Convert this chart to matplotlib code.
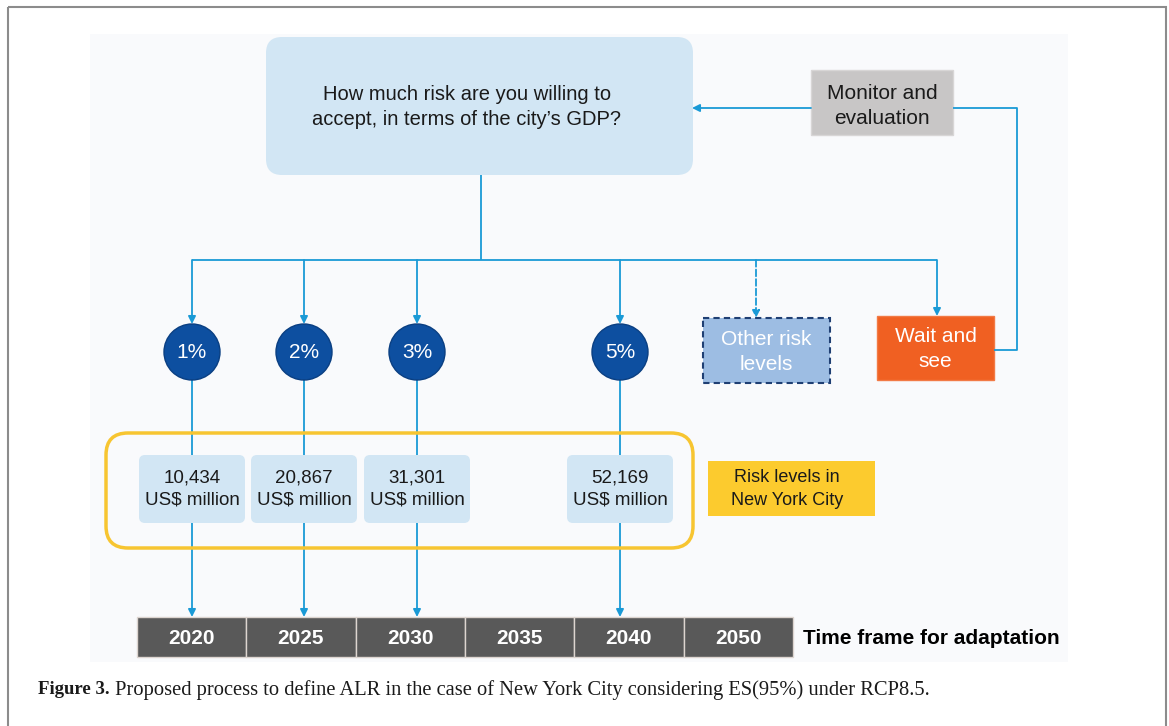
"""Flowchart: proposed process to define ALR for New York City (ES 95%, RCP8.5)."""
import matplotlib
matplotlib.use('Agg')
import matplotlib.pyplot as plt
from matplotlib.patches import FancyBboxPatch, Rectangle, Circle

# ── Content ──
question = "How much risk are you willing to\naccept, in terms of the city\u2019s GDP?"
monitor_label = "Monitor and\nevaluation"
wait_label = "Wait and\nsee"
other_label = "Other risk\nlevels"
risk_levels = ['1%', '2%', '3%', '5%']
risk_values = ['10,434', '20,867', '31,301', '52,169']
years = ['2020', '2025', '2030', '2035', '2040', '2050']
level_year = ['2020', '2025', '2030', '2040']
nyc_label = "Risk levels in\nNew York City"
timeline_label = "Time frame for adaptation"
caption_bold = "Figure 3."
caption_text = " Proposed process to define ALR in the case of New York City considering ES(95%) under RCP8.5."

# ── Layout (pixel coords) ──
W, H = 1169, 726
LINE = '#1a9ad6'
LIGHT = '#d2e6f4'
col_x = [192, 304, 417, 620]
other_x, wait_x = 756, 937
bus_y = 260
circ_y, circ_r = 352, 28
year_x0, year_w, year_y0, year_y1 = 137, 109.3, 617, 657
val_w = 106

plt.rcParams['font.family'] = ['Liberation Sans', 'DejaVu Sans']
fig = plt.figure(figsize=(W / 100, H / 100), dpi=100)
ax = fig.add_axes([0, 0, 1, 1])
ax.set_xlim(0, W)
ax.set_ylim(H, 0)
ax.axis('off')


def arrow(x0, y0, x1, y1, ls='-'):
    ax.annotate('', xy=(x1, y1), xytext=(x0, y0),
                arrowprops=dict(arrowstyle='-|>', color=LINE, lw=1.3, ls=ls,
                                mutation_scale=11, shrinkA=0, shrinkB=0), zorder=3)


def line(xs, ys, ls='-'):
    ax.plot(xs, ys, color=LINE, lw=1.3, ls=ls, zorder=2, solid_capstyle='butt')


# outer frame and panel
ax.add_patch(Rectangle((8, 7), 1158, 730, fill=False, ec='#8c8c8c', lw=1.5, zorder=0))
ax.add_patch(Rectangle((90, 34), 978, 628, fc='#f9fafc', ec='none', zorder=0))

# question box
ax.add_patch(FancyBboxPatch((266, 37), 427, 138, boxstyle='round,pad=0,rounding_size=16',
                            fc=LIGHT, ec='none', zorder=1))
ax.text(467, 107, question, ha='center', va='center', fontsize=14.5, color='#1a1a1a',
        linespacing=1.4, zorder=4)

# monitor box + feedback loop
ax.add_patch(Rectangle((811, 70), 142, 65, fc='#c8c6c6', ec='#d8d6d6', lw=1, zorder=1))
ax.text(882, 106, monitor_label, ha='center', va='center', fontsize=15, color='#1a1a1a',
        linespacing=1.4, zorder=4)
arrow(811, 108, 692, 108)
line([953, 1017, 1017, 994], [108, 108, 350, 350])

# wait and see
ax.add_patch(Rectangle((877, 316), 117, 64, fc='#f06022', ec='#f27a45', lw=1, zorder=1))
ax.text(935.5, 349, wait_label, ha='center', va='center', fontsize=15, color='white',
        linespacing=1.4, zorder=4)

# other risk levels
ax.add_patch(Rectangle((703, 318), 127, 65, fc='#9dbde3', ec='#1f3f73', lw=1.5,
                       ls=(0, (3, 2)), zorder=1))
ax.text(766.5, 352, other_label, ha='center', va='center', fontsize=15, color='white',
        linespacing=1.4, zorder=4)

# bus lines
line([481, 481], [175, bus_y])
line([col_x[0], wait_x], [bus_y, bus_y])
for x in col_x:
    arrow(x, bus_y, x, circ_y - circ_r)
arrow(other_x, bus_y, other_x, 318, ls='--')
arrow(wait_x, bus_y, wait_x, 316)

# risk-level circles and drops to the timeline
for lvl, x, yr in zip(risk_levels, col_x, level_year):
    ax.add_patch(Circle((x, circ_y), circ_r, fc='#0d4fa0', ec='#0a3f82', lw=1, zorder=4))
    ax.text(x, circ_y, lvl, ha='center', va='center', fontsize=15, color='white', zorder=5)
    arrow(x, circ_y + circ_r, x, year_y0)

# yellow grouping box
ax.add_patch(FancyBboxPatch((106, 433), 587, 115, boxstyle='round,pad=0,rounding_size=22',
                            fill=False, ec='#f7c531', lw=2.5, zorder=3))
for val, x in zip(risk_values, col_x):
    ax.add_patch(FancyBboxPatch((x - val_w / 2, 455), val_w, 68,
                                boxstyle='round,pad=0,rounding_size=6',
                                fc=LIGHT, ec='none', zorder=4))
    ax.text(x, 489, val + "\nUS$ million", ha='center', va='center', fontsize=13.5,
            color='#1a1a1a', linespacing=1.4, zorder=5)

ax.add_patch(Rectangle((708, 461), 167, 55, fc='#fccb2e', ec='none', zorder=1))
ax.text(787, 489, nyc_label, ha='center', va='center', fontsize=13, color='#1a1a1a',
        linespacing=1.4, zorder=4)

# timeline
for i, yr in enumerate(years):
    ax.add_patch(Rectangle((year_x0 + i * year_w, year_y0), year_w, year_y1 - year_y0,
                           fc='#595959', ec='#ddd5d0', lw=1, zorder=2))
    ax.text(year_x0 + (i + 0.5) * year_w, (year_y0 + year_y1) / 2 + 1, yr, ha='center',
            va='center', fontsize=15, fontweight='bold', color='white', zorder=4)
ax.text(803, 638, timeline_label, ha='left', va='center', fontsize=15, fontweight='bold',
        color='black')

# caption
t = ax.text(38, 690, caption_bold, ha='left', va='center', fontsize=13.5, fontweight='bold',
            family=['Liberation Serif'], color='#1a1a1a')
ax.annotate(caption_text, xy=(1, 0.5), xycoords=t, ha='left', va='center', fontsize=14.8,
            family=['Liberation Serif'], color='#1a1a1a')

fig.savefig('out.png', dpi=100)
